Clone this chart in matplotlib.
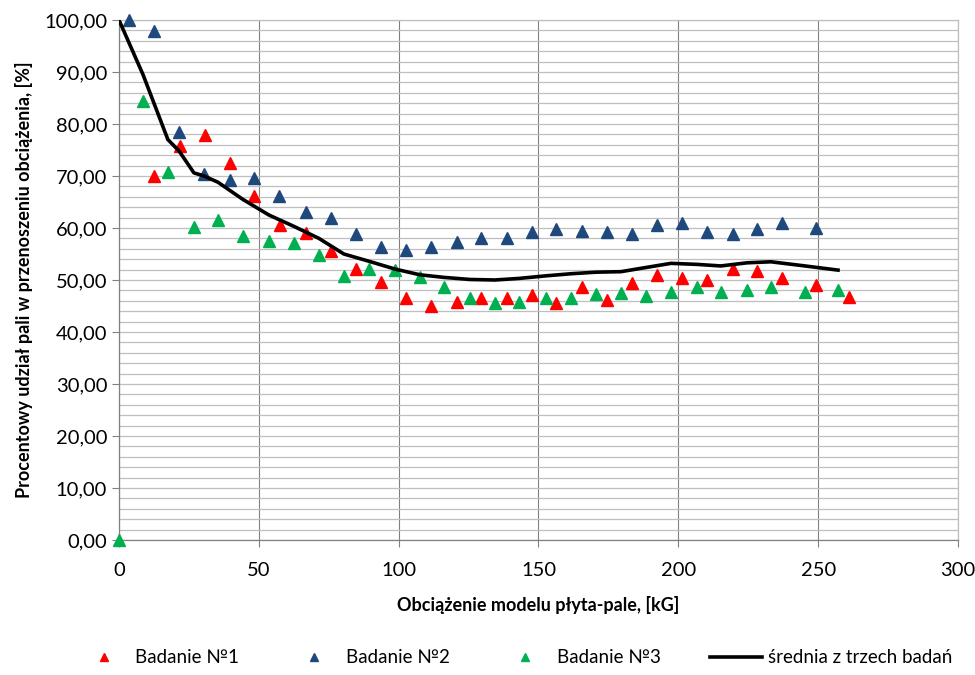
import numpy as np
import matplotlib
matplotlib.use("Agg")
import matplotlib.pyplot as plt
from matplotlib.ticker import MultipleLocator, FuncFormatter

plt.rcParams['font.family'] = ['Lato', 'DejaVu Sans']

# Badanie 1 (red)
x1 = [12.5, 21.8, 30.7, 39.7, 48.3, 57.6, 66.9, 75.8, 84.7, 93.7, 102.6, 111.5,
      120.8, 129.4, 138.7, 147.7, 156.2, 165.5, 174.5, 183.4, 192.3, 201.3,
      210.2, 219.5, 228.1, 237.0, 249.2, 261.0]
y1 = [70.0, 75.8, 77.9, 72.5, 66.2, 60.6, 59.0, 55.6, 52.1, 49.6, 46.5, 45.0,
      45.8, 46.5, 46.5, 47.1, 45.6, 48.7, 46.2, 49.4, 51.0, 50.4,
      50.0, 52.1, 51.7, 50.4, 49.0, 46.7]

# Badanie 2 (blue)
x2 = [3.6, 12.5, 21.5, 30.4, 39.7, 48.3, 57.2, 66.9, 75.8, 84.7, 93.7, 102.6,
      111.5, 120.8, 129.4, 138.7, 147.7, 156.2, 165.5, 174.5, 183.4, 192.3,
      201.3, 210.2, 219.5, 228.1, 237.0, 249.2]
y2 = [100.0, 97.9, 78.5, 70.4, 69.2, 69.6, 66.2, 63.1, 61.9, 58.8, 56.3, 55.8,
      56.3, 57.3, 58.1, 58.1, 59.2, 59.8, 59.4, 59.2, 58.8, 60.6,
      61.0, 59.2, 58.8, 59.8, 61.0, 60.0]

# Badanie 3 (green)
x3 = [0.0, 8.6, 17.5, 26.8, 35.4, 44.3, 53.6, 62.6, 71.5, 80.4, 89.4, 98.7,
      107.6, 116.2, 125.5, 134.4, 143.0, 152.7, 161.6, 170.5, 179.5, 188.4,
      197.4, 206.7, 215.2, 224.5, 233.1, 245.3, 257.1]
y3 = [0.0, 84.4, 70.8, 60.2, 61.5, 58.5, 57.5, 57.1, 54.8, 50.8, 52.1, 51.9,
      50.6, 48.7, 46.5, 45.6, 45.8, 46.5, 46.5, 47.3, 47.5, 46.9,
      47.7, 48.7, 47.7, 48.1, 48.7, 47.7, 48.1]

# srednia z trzech badan (black line)
xm = [0.0, 8.6, 17.5, 21.5, 26.8, 30.4, 35.4, 44.3, 53.6, 62.6, 71.5, 80.4,
      89.4, 98.7, 107.6, 116.2, 125.5, 134.4, 143.0, 152.7, 161.6, 170.5,
      179.5, 188.4, 197.4, 206.7, 215.2, 224.5, 233.1, 245.3, 257.1]
ym = [100.0, 89.5, 77.0, 74.8, 70.6, 70.0, 68.8, 65.5, 62.5, 60.3, 58.0, 55.0,
      53.6, 52.1, 51.0, 50.5, 50.1, 50.0, 50.3, 50.8, 51.2, 51.5,
      51.6, 52.4, 53.2, 53.0, 52.7, 53.3, 53.5, 52.7, 51.9]

fig = plt.figure(figsize=(9.75, 6.75), dpi=100)
ax = fig.add_axes([0.122, 0.2, 0.8606, 0.7704])

ax.plot(x1, y1, linestyle='none', marker='^', ms=9, color='#FF0000', label='Badanie №1', zorder=3, clip_on=False)
ax.plot(x2, y2, linestyle='none', marker='^', ms=9, color='#1F497D', label='Badanie №2', zorder=3, clip_on=False)
ax.plot(x3, y3, linestyle='none', marker='^', ms=9, color='#00B050', label='Badanie №3', zorder=3, clip_on=False)
ax.plot(xm, ym, color='black', lw=2.6, label='średnia z trzech badań', zorder=4)

ax.set_xlim(0, 300)
ax.set_ylim(0, 100)
ax.xaxis.set_major_locator(MultipleLocator(50))
ax.yaxis.set_major_locator(MultipleLocator(10))
ax.yaxis.set_minor_locator(MultipleLocator(2))
ax.yaxis.set_major_formatter(FuncFormatter(lambda v, p: f"{v:.2f}".replace('.', ',')))

ax.grid(axis='y', which='both', color='#BFBFBF', lw=0.9, zorder=0)
ax.grid(axis='x', which='major', color='#808080', lw=0.8, zorder=0)
ax.set_axisbelow(True)

for s in ax.spines.values():
    s.set_color('#BFBFBF')
    s.set_linewidth(0.9)
ax.spines['left'].set_color('#808080')
ax.spines['bottom'].set_color('#808080')

ax.tick_params(axis='both', which='major', labelsize=14.5, color='#808080', length=5, width=0.8)
ax.tick_params(axis='y', which='minor', length=0)
ax.tick_params(axis='x', pad=11)

ax.set_xlabel('Obciążenie modelu płyta-pale, [kG]', fontsize=13, fontweight='bold', labelpad=12)
ax.set_ylabel('Procentowy udział pali w przenoszeniu obciążenia, [%]', fontsize=13, fontweight='bold', labelpad=8)

fig.legend(loc='lower center', bbox_to_anchor=(0.528, -0.012), ncol=4, frameon=False,
           fontsize=13.5, markerscale=0.6, handlelength=2.8, handletextpad=0.3, columnspacing=2.6)

fig.savefig('out.png', dpi=100)
